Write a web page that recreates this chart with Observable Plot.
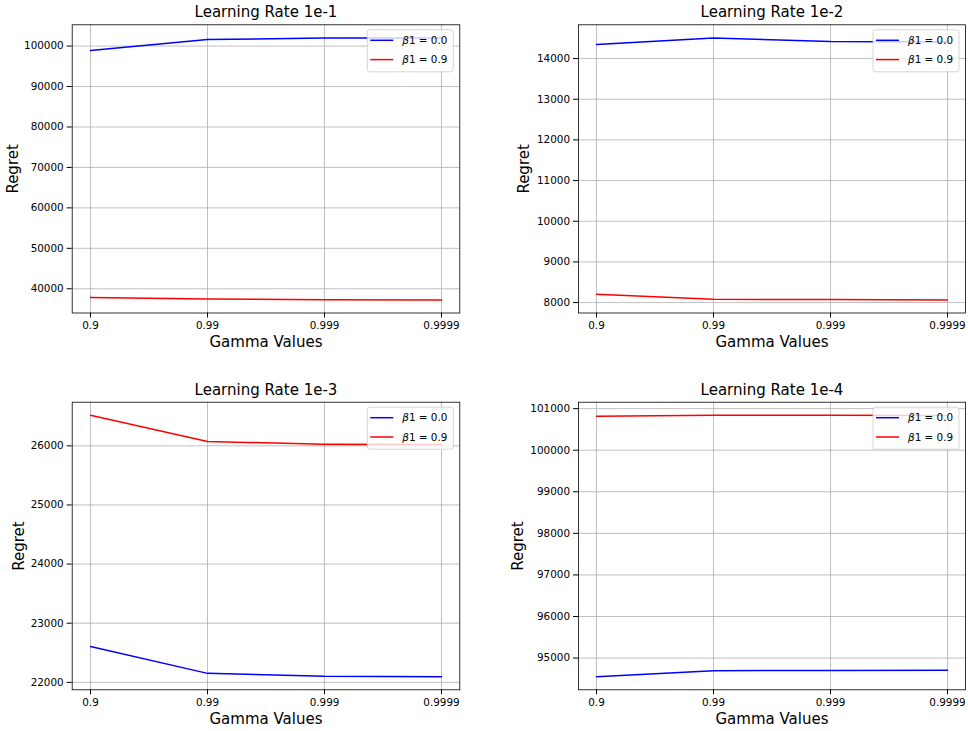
<!DOCTYPE html>
<html><head><meta charset="utf-8">
<script src="https://cdn.jsdelivr.net/npm/d3@7"></script>
<script src="https://cdn.jsdelivr.net/npm/@observablehq/plot@0.6"></script>
<style>
body{margin:0;background:#fff;}
#wrap{position:relative;width:968px;height:731px;overflow:hidden;background:#fff;font-family:"DejaVu Sans",sans-serif;}
#wrap svg{position:absolute;overflow:visible;}
</style></head><body><div id="wrap"></div>
<script>
// Categories
const gammas = ["0.9", "0.99", "0.999", "0.9999"];
const betas = ["0.0", "0.9"];
const titles = ["Learning Rate 1e-1", "Learning Rate 1e-2", "Learning Rate 1e-3", "Learning Rate 1e-4"];
const xLabel = "Gamma Values";
const yLabel = "Regret";

// Series values (regret) for beta1 = 0.0 and beta1 = 0.9
const lr1e1_beta00 = [98900, 101600, 102000, 102020];
const lr1e1_beta09 = [37850, 37450, 37300, 37250];
const lr1e2_beta00 = [14343, 14508, 14417, 14410];
const lr1e2_beta09 = [8204, 8081, 8074, 8066];
const lr1e3_beta00 = [22607, 22152, 22101, 22095];
const lr1e3_beta09 = [26517, 26073, 26028, 26022];
const lr1e4_beta00 = [94552, 94696, 94704, 94705];
const lr1e4_beta09 = [100815, 100839, 100840, 100835];

// Tick labels
const ticks1 = [40000, 50000, 60000, 70000, 80000, 90000, 100000];
const ticks2 = [8000, 9000, 10000, 11000, 12000, 13000, 14000];
const ticks3 = [22000, 23000, 24000, 25000, 26000];
const ticks4 = [95000, 96000, 97000, 98000, 99000, 100000, 101000];

const colors = ["#0000ff", "#ff0000"];
const FONT = '"DejaVu Sans", sans-serif';

const panels = [
  {title: titles[0], s: [lr1e1_beta00, lr1e1_beta09], ticks: ticks1, left: 0, top: 0, width: 484, height: 366, mt: 24.3, mb: 53.5, ml: 71.7, mr: 24.7, ylab: -59},
  {title: titles[1], s: [lr1e2_beta00, lr1e2_beta09], ticks: ticks2, left: 484, top: 0, width: 484, height: 366, mt: 24.3, mb: 53.5, ml: 94, mr: 3, ylab: -54.3},
  {title: titles[2], s: [lr1e3_beta00, lr1e3_beta09], ticks: ticks3, left: 0, top: 366, width: 484, height: 365, mt: 35.7, mb: 41.7, ml: 71.7, mr: 24.7, ylab: -53.5},
  {title: titles[3], s: [lr1e4_beta00, lr1e4_beta09], ticks: ticks4, left: 484, top: 366, width: 484, height: 365, mt: 35.7, mb: 41.7, ml: 94, mr: 3, ylab: -60}
];

const wrap = document.getElementById("wrap");

for (const p of panels) {
  const rows = [];
  p.s.forEach((vals, si) => vals.forEach((v, i) => rows.push({gamma: gammas[i], regret: v, beta: betas[si]})));
  const [lo, hi] = d3.extent(rows, d => d.regret);
  const pad = (hi - lo) * 0.05;
  const svgEl = Plot.plot({
    width: p.width, height: p.height,
    marginTop: p.mt, marginBottom: p.mb, marginLeft: p.ml, marginRight: p.mr,
    style: {fontFamily: FONT, fontSize: "10.4px", color: "#000", background: "transparent", overflow: "visible"},
    x: {type: "point", domain: gammas, padding: 0.15, label: null},
    y: {domain: [lo - pad, hi + pad], label: null},
    color: {domain: betas, range: colors},
    marks: [
      Plot.gridX(gammas, {stroke: "#b0b0b0", strokeOpacity: 1, strokeWidth: 0.8}),
      Plot.gridY(p.ticks, {stroke: "#b0b0b0", strokeOpacity: 1, strokeWidth: 0.8}),
      Plot.line(rows, {x: "gamma", y: "regret", z: "beta", stroke: "beta", strokeWidth: 1.5}),
      Plot.frame({stroke: "#000", strokeWidth: 0.8}),
      Plot.axisX(gammas, {tickSize: 5, tickPadding: 3.5, label: null, fontSize: 10.4}),
      Plot.axisY(p.ticks, {tickSize: 5, tickPadding: 3.5, tickFormat: "d", label: null, fontSize: 10.4}),
      Plot.text([p.title], {frameAnchor: "top", dy: -12.5, lineAnchor: "middle", fontSize: 15}),
      Plot.text([xLabel], {frameAnchor: "bottom", dy: 29.5, lineAnchor: "middle", fontSize: 15}),
      Plot.text([yLabel], {frameAnchor: "left", dx: p.ylab, rotate: -90, textAnchor: "middle", lineAnchor: "middle", fontSize: 15})
    ]
  });
  svgEl.style.left = p.left + "px";
  svgEl.style.top = p.top + "px";

  // legend (upper right, matplotlib style)
  const svg = d3.select(svgEl);
  const fx1 = p.width - p.mr;
  const bw = 86, bh = 42;
  const bx = fx1 - 6 - bw, by = p.mt + 5.5;
  const g = svg.append("g").attr("text-anchor", "start");
  g.append("rect").attr("x", bx).attr("y", by).attr("width", bw).attr("height", bh).attr("rx", 2.5)
    .attr("fill", "white").attr("fill-opacity", 0.8).attr("stroke", "#cccccc").attr("stroke-width", 0.8);
  betas.forEach((b, i) => {
    const y = by + 10.5 + i * 19.3;
    g.append("line").attr("x1", bx + 3).attr("x2", bx + 26).attr("y1", y).attr("y2", y)
      .attr("stroke", colors[i]).attr("stroke-width", 1.5);
    const t = g.append("text").attr("x", bx + 35).attr("y", y).attr("dy", "0.35em")
      .attr("text-anchor", "start")
      .attr("font-family", FONT).attr("font-size", 10.4).attr("fill", "#000");
    t.append("tspan").attr("font-style", "italic").text("β");
    t.append("tspan").text("1 = " + b);
  });

  wrap.appendChild(svgEl);
}
</script></body></html>
